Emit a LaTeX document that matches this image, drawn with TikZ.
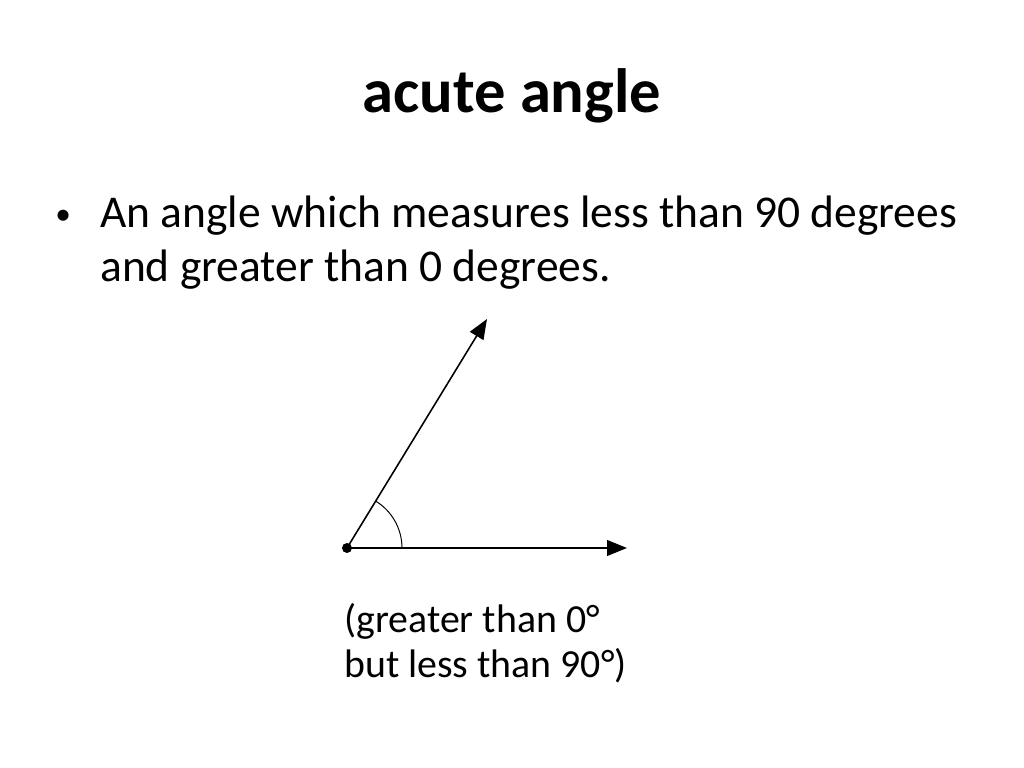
\documentclass[tikz,border=0pt]{standalone}
\usepackage{fontspec}
\setmainfont{Carlito}
\usetikzlibrary{arrows.meta}
\begin{document}
\begin{tikzpicture}[x=0.703125pt,y=-0.703125pt,
  title/.style={anchor=base,inner sep=0pt,font=\fontsize{44}{53}\selectfont\bfseries},
  body/.style={anchor=base west,inner sep=0pt,font=\fontsize{32}{38}\selectfont},
  caption/.style={anchor=base west,inner sep=0pt,font=\fontsize{28}{34}\selectfont},
  ray/.style={-{Triangle[length=14pt,width=11pt]},line width=1.4pt},
  arcline/.style={line width=0.7pt}]
\useasboundingbox[fill=white] (0,0) rectangle (1024,768);
\node[title] (t) at (512,113) {acute angle};
\node[body,font=\fontsize{22}{26}\selectfont] (b) at (55,225) {•};
\node[body] (l1) at (100,228) {An angle which measures less than 90 degrees};
\node[body] (l2) at (100,282) {and greater than 0 degrees.};
\coordinate (v) at (347,548);
\coordinate (h) at (627,548);
\coordinate (u) at (487,319);
\fill (v) circle[radius=5];
\draw[ray] (v) -- (h);
\draw[ray,line width=1.1pt] (v) -- (u);
\draw[arcline] (402,548) arc[start angle=0,end angle=-58.6,radius=55];
\node[caption] (c1) at (344,632) {(greater than 0°};
\node[caption] (c2) at (344,677) {but less than 90°)};
\end{tikzpicture}
\end{document}
